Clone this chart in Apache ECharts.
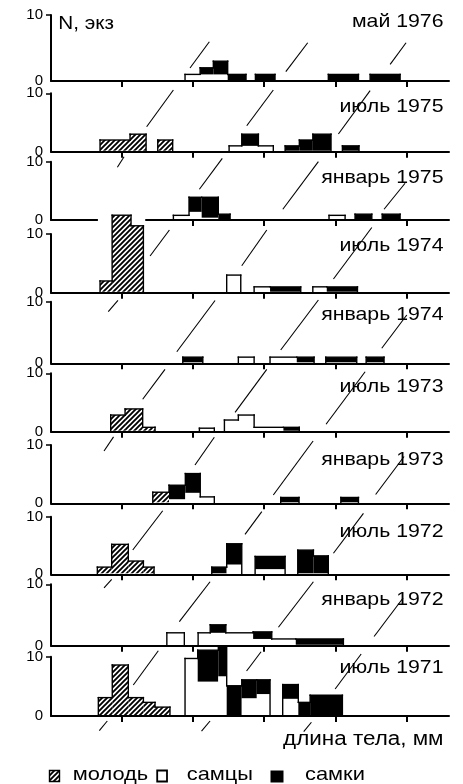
<!DOCTYPE html>
<html>
<head>
<meta charset="utf-8">
<script src="https://cdn.jsdelivr.net/npm/echarts@6/dist/echarts.min.js"></script>
<style>
  html, body { margin: 0; padding: 0; background: #fff; }
  #chart { width: 463px; height: 784px; }
</style>
</head>
<body>
<div id="chart"></div>
<script>
// Sampling dates, top panel first
const samples = ['май 1976', 'июль 1975', 'январь 1975', 'июль 1974', 'январь 1974',
                 'июль 1973', 'январь 1973', 'июль 1972', 'январь 1972', 'июль 1971'];

// Length classes for each sample: [from mm, to mm, juveniles, males, females]
const binsMay1976 = [[9.43, 10.49, 0, 1, 0], [10.49, 11.42, 0, 1, 1], [11.42, 12.43, 0, 1, 2],
  [12.43, 13.72, 0, 0, 1], [14.38, 15.76, 0, 0, 1], [19.51, 21.63, 0, 0, 1], [22.45, 24.56, 0, 0, 1]];
const binsJul1975 = [[3.45, 5.56, 2, 0, 0], [5.56, 6.69, 3, 0, 0], [7.51, 8.56, 2, 0, 0],
  [12.53, 13.42, 0, 1, 0], [13.42, 14.59, 0, 1, 2], [14.59, 15.64, 0, 1, 0], [16.47, 17.47, 0, 0, 1],
  [17.47, 18.42, 0, 0, 2], [18.42, 19.7, 0, 0, 3], [20.5, 21.67, 0, 0, 1]];
const binsJan1975 = [[8.61, 9.71, 0, 0.8, 0], [9.71, 10.6, 0, 1.4, 2.5], [10.6, 11.77, 0, 0.4, 3.5],
  [11.77, 12.6, 0, 0, 1], [19.56, 20.69, 0, 0.8, 0], [21.39, 22.57, 0, 0, 1], [23.3, 24.56, 0, 0, 1]];
const binsJul1974 = [[3.45, 4.3, 2, 0, 0], [4.3, 5.63, 13.2, 0, 0], [5.63, 6.5, 11.4, 0, 0],
  [12.36, 13.35, 0, 3, 0], [14.29, 15.41, 0, 1, 0], [15.41, 17.57, 0, 0, 1], [18.42, 19.4, 0, 1, 0],
  [19.4, 21.56, 0, 0, 1]];
const binsJan1974 = [[9.27, 10.68, 0, 0, 1], [13.18, 14.29, 0, 1, 0], [15.41, 17.29, 0, 1, 0],
  [17.29, 18.51, 0, 0, 1], [19.33, 21.51, 0, 0, 1], [22.17, 23.43, 0, 0, 1]];
const binsJul1973 = [[4.2, 5.21, 2.85, 0, 0], [5.21, 6.45, 3.9, 0, 0], [6.45, 7.32, 0.75, 0, 0],
  [10.44, 11.49, 0, 0.6, 0], [12.2, 13.18, 0, 2, 0], [13.18, 14.29, 0, 2.85, 0], [14.29, 16.35, 0, 0.75, 0],
  [16.35, 17.47, 0, 0, 0.75]];
const binsJan1973 = [[7.16, 8.3, 1.9, 0, 0], [8.3, 9.45, 0, 0.7, 2.4], [9.45, 10.5, 0, 1.8, 3.3],
  [10.5, 11.49, 0, 1.1, 0], [16.16, 17.45, 0, 0, 1], [20.39, 21.63, 0, 0, 1]];
const binsJul1972 = [[3.26, 4.27, 1.25, 0, 0], [4.27, 5.44, 5.2, 0, 0], [5.44, 6.5, 2.3, 0, 0],
  [6.5, 7.25, 1.25, 0, 0], [11.31, 12.36, 0, 0, 1.25], [12.36, 13.42, 0, 1.7, 3.6], [14.36, 16.47, 0, 0.9, 2.2],
  [17.36, 18.46, 0, 0, 4.2], [18.46, 19.51, 0, 0, 3.2]];
const binsJan1972 = [[8.15, 9.38, 0, 2.1, 0], [10.35, 11.2, 0, 2.1, 0], [11.2, 12.3, 0, 2.1, 1.3],
  [12.3, 14.22, 0, 2.1, 0], [14.22, 15.53, 0, 1.1, 1.15], [15.53, 17.22, 0, 1.1, 0], [17.22, 20.57, 0, 0, 1.1]];
const binsJul1971 = [[3.33, 4.31, 3.1, 0, 0], [4.31, 5.44, 8.6, 0, 0], [5.44, 6.5, 3.1, 0, 0],
  [6.5, 7.32, 2.3, 0, 0], [7.32, 8.37, 1.5, 0, 0], [9.43, 10.32, 0, 9.7, 0], [10.32, 11.77, 0, 5.8, 5.3],
  [11.77, 12.36, 0, 6.7, 5.1], [12.36, 13.42, 0, 0, 5.1], [13.42, 14.48, 0, 3, 3.1], [14.48, 15.41, 0, 3.7, 2.4],
  [16.3, 17.4, 0, 2.9, 2.4], [17.4, 18.23, 0, 0, 2.3], [18.23, 20.5, 0, 0, 3.5]];

// Cohort growth lines crossing each panel: [mm, N, mm, N]
const cohortMay1976 = [[9.78, 1.97, 11.14, 5.95], [16.52, 1.41, 18.06, 5.8], [23.86, 2.53, 24.98, 5.8]];
const cohortJul1975 = [[6.73, 4.28, 8.61, 10.57], [13.77, 4.45, 15.64, 10.57], [20.22, 3.03, 22.45, 10.45]];
const cohortJan1975 = [[4.67, 9.04, 5.14, 10.86], [10.44, 5.27, 12.05, 10.58], [16.31, 1.84, 18.81, 10.0],
  [23.43, 1.84, 24.91, 6.3]];
const cohortJul1974 = [[6.97, 6.25, 8.33, 10.68], [13.42, 4.6, 15.18, 10.68], [19.87, 2.33, 22.57, 11.1]];
const cohortJan1974 = [[4.03, 8.38, 4.71, 10.2], [8.85, 1.88, 11.54, 10.2], [16.16, 2.16, 18.81, 10.28],
  [23.27, 2.44, 25.03, 7.84]];
const cohortJul1973 = [[6.45, 5.55, 8.02, 10.68], [12.95, 3.32, 15.18, 10.68], [19.35, 1.27, 22.1, 10.27]];
const cohortJan1973 = [[3.73, 8.97, 4.4, 11.4], [10.13, 6.57, 11.49, 11.32], [15.64, 1.42, 18.44, 10.68],
  [22.84, 1.51, 24.84, 8.03]];
const cohortJul1972 = [[5.75, 4.22, 7.86, 11.04], [13.65, 6.94, 14.83, 10.87], [19.87, 3.65, 21.98, 10.59]];
const cohortJan1972 = [[3.73, 9.4, 4.27, 10.81], [9.03, 3.91, 11.19, 10.42], [16.0, 3.0, 18.46, 10.42],
  [22.73, 1.5, 24.77, 7.77]];
const cohortJul1971 = [[5.79, 5.23, 7.55, 11.01], [13.76, 7.59, 14.78, 10.84], [19.99, 4.55, 21.82, 10.46],
  [3.4, -2.48, 3.96, -0.84], [10.59, -2.56, 11.19, -0.84], [17.78, -2.65, 18.32, -1.05]];

const lengthTicks = [5, 10, 15, 20, 25];
const countTicks = [0, 10];
const legendNames = ['молодь', 'самцы', 'самки'];

const binSets = [binsMay1976, binsJul1975, binsJan1975, binsJul1974, binsJan1974,
                 binsJul1973, binsJan1973, binsJul1972, binsJan1972, binsJul1971];
const cohortSets = [cohortMay1976, cohortJul1975, cohortJan1975, cohortJul1974, cohortJan1974,
                    cohortJul1973, cohortJan1973, cohortJul1972, cohortJan1972, cohortJul1971];

// Panel layout (pixels): top of the 0..10 scale and its baseline
const panelTop  = [15, 93.3, 161.7, 234, 301.7, 373.3, 445, 516.7, 584.3, 656.7];
const panelBase = [81, 151.7, 220, 292.7, 363.3, 431.7, 503.3, 574.3, 645.7, 716];
const titleMid  = [22, 106.7, 178.3, 245.5, 315, 387, 460, 531.7, 600, 668.3];
const PLOT_LEFT = 51, PLOT_WIDTH = 398, X_MAX = 28;
const TEXT_FONT = '"Liberation Sans", Arial, sans-serif';
const STRETCH = 1.15;

// Diagonal hatch tile for juveniles
const hatchTile = (function () {
  const s = 5;
  const c = document.createElement('canvas');
  c.width = s; c.height = s;
  const g = c.getContext('2d');
  g.fillStyle = '#fff'; g.fillRect(0, 0, s, s);
  g.strokeStyle = '#000'; g.lineWidth = 1.9;
  g.beginPath();
  g.moveTo(-1, s + 1); g.lineTo(s + 1, -1);
  g.moveTo(-s / 2 - 1, s / 2 + 1); g.lineTo(s / 2 + 1, -s / 2 - 1);
  g.moveTo(s / 2 - 1, s * 1.5 + 1); g.lineTo(s * 1.5 + 1, s / 2 - 1);
  g.stroke();
  return c;
})();
const hatchFill = { image: hatchTile, repeat: 'repeat' };

const REACH = 12.5; // bars taller than this cut through the panel above

function binRenderer(list) {
  const total = b => b[2] + b[3] + b[4];
  const joined = (a, b) => !!(a && b && Math.abs(a[1] - b[0]) < 0.05);
  return function (params, api) {
    const i = params.dataIndex;
    const b = list[i], prev = list[i - 1], next = list[i + 1];
    const x0 = api.value(0), x1 = api.value(1);
    const j = api.value(2), m = api.value(3), f = api.value(4);
    const t = j + m + f;
    const px0 = api.coord([x0, 0])[0], px1 = api.coord([x1, 0])[0];
    const py = v => api.coord([x0, v])[1];
    const base = py(0) - 1;
    const kids = [];
    if (t > REACH) {
      const mx0 = api.coord([x0 - 1.0, 0])[0], mx1 = api.coord([x1 + 1.0, 0])[0];
      kids.push({ type: 'rect', z2: 0, shape: { x: mx0, y: py(t + 0.3), width: mx1 - mx0, height: py(11) - py(t + 0.3) },
                  style: { fill: '#fff' } });
    }
    const layer = (lo, hi, fill) => {
      if (hi <= lo) return;
      const yb = lo === 0 ? base : py(lo);
      kids.push({ type: 'rect', z2: 1, shape: { x: px0, y: py(hi), width: px1 - px0, height: yb - py(hi) },
                  style: { fill: fill } });
    };
    layer(0, j, hatchFill);
    layer(j, j + m, '#fff');
    layer(j + m, t, '#000');
    const edge = (xa, ya, xb, yb) => {
      if (Math.abs(xa - xb) < 0.01 && Math.abs(ya - yb) < 0.01) return;
      kids.push({ type: 'line', z2: 5, shape: { x1: xa, y1: ya, x2: xb, y2: yb },
                  style: { stroke: '#000', lineWidth: 1.4, lineCap: 'square' } });
    };
    edge(px0, py(t), px1, py(t));
    edge(px0, py(t), px0, py(joined(prev, b) ? total(prev) : 0));
    if (!joined(b, next)) edge(px1, py(t), px1, py(0));
    return { type: 'group', children: kids };
  };
}

function cohortRenderer(params, api) {
  const a = api.coord([api.value(0), api.value(1)]);
  const b = api.coord([api.value(2), api.value(3)]);
  return { type: 'line', shape: { x1: a[0], y1: a[1], x2: b[0], y2: b[1] },
           style: { stroke: '#000', lineWidth: 1.1 } };
}

const grids = [], xAxes = [], yAxes = [], series = [];
samples.forEach((name, i) => {
  grids.push({ left: PLOT_LEFT, width: PLOT_WIDTH, top: panelTop[i], height: panelBase[i] - panelTop[i] });
  xAxes.push({
    type: 'value', gridIndex: i, min: 0, max: X_MAX, interval: 5,
    axisLine: { show: true, onZero: false, lineStyle: { color: '#000', width: 2 } },
    axisTick: { show: true, inside: false, length: 6, customValues: lengthTicks, lineStyle: { color: '#000', width: 2 } },
    axisLabel: { show: false }, splitLine: { show: false }
  });
  yAxes.push({
    type: 'value', gridIndex: i, min: 0, max: 10, interval: 10,
    axisLine: { show: true, onZero: false, lineStyle: { color: '#000', width: 2 } },
    axisTick: { show: true, inside: false, length: 5, customValues: [10], lineStyle: { color: '#000', width: 1.5 } },
    axisLabel: { show: true, customValues: countTicks, color: '#000', fontSize: 15, fontFamily: TEXT_FONT, margin: 8 },
    splitLine: { show: false }
  });
  series.push({
    name: name, type: 'custom', xAxisIndex: i, yAxisIndex: i, silent: true, clip: false,
    dimensions: ['from', 'to', 'juv', 'male', 'female'],
    encode: { x: ['from', 'to'], y: ['juv', 'male', 'female'] },
    data: binSets[i], renderItem: binRenderer(binSets[i])
  });
});
samples.forEach((name, i) => {
  series.push({
    name: name + ' cohorts', type: 'custom', xAxisIndex: i, yAxisIndex: i, silent: true, clip: false,
    dimensions: ['x1', 'n1', 'x2', 'n2'],
    encode: { x: ['x1', 'x2'], y: ['n1', 'n2'] },
    data: cohortSets[i], renderItem: cohortRenderer
  });
});

// Text and legend
const graphic = [];
const addText = (text, x, y, size, align) => graphic.push({
  type: 'text', x: x, y: y, scaleX: STRETCH, silent: true, z: 10,
  style: { text: text, fill: '#000', font: size + 'px ' + TEXT_FONT, textAlign: align, textVerticalAlign: 'middle' }
});
samples.forEach((name, i) => addText(name, 443.5, titleMid[i], 18.5, 'right'));
addText('N, экз', 58.3, 24.4, 18, 'left');
addText('длина тела, мм', 443.5, 740, 19.5, 'right');

const legendY = 770.5, legendH = 11;
graphic.push({ type: 'rect', silent: true, shape: { x: 49.5, y: legendY, width: 10, height: legendH },
               style: { fill: hatchFill, stroke: '#000', lineWidth: 1.4 } });
graphic.push({ type: 'rect', silent: true, shape: { x: 157.2, y: legendY, width: 9.8, height: legendH },
               style: { fill: '#fff', stroke: '#000', lineWidth: 1.8 } });
graphic.push({ type: 'rect', silent: true, shape: { x: 270.5, y: legendY, width: 13, height: legendH + 1 },
               style: { fill: '#000' } });
addText(legendNames[0], 72.7, 774.5, 19, 'left');
addText(legendNames[1], 186.7, 774.5, 19, 'left');
addText(legendNames[2], 305, 774.5, 19, 'left');

const chart = echarts.init(document.getElementById('chart'), null, { renderer: 'canvas' });
chart.setOption({
  animation: false,
  backgroundColor: '#fff',
  grid: grids, xAxis: xAxes, yAxis: yAxes, series: series, graphic: graphic
});
</script>
</body>
</html>
